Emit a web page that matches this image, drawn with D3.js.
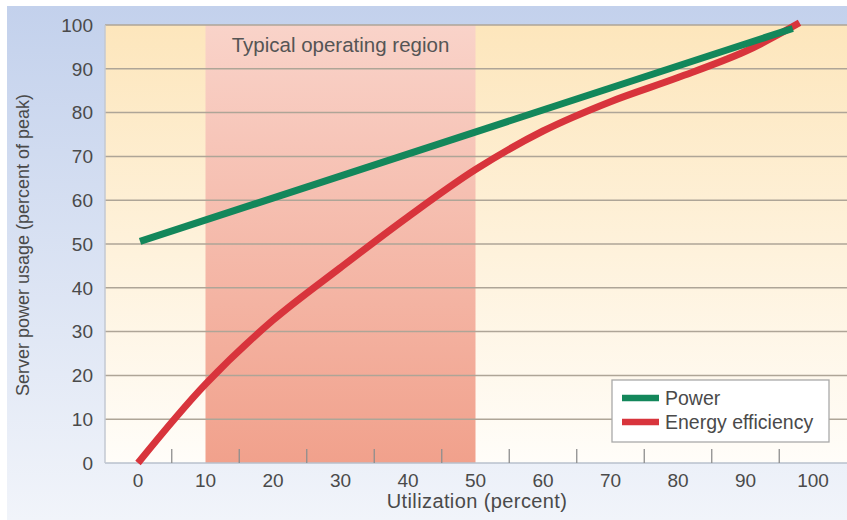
<!DOCTYPE html>
<html>
<head>
<meta charset="utf-8">
<script src="https://cdn.jsdelivr.net/npm/d3@7"></script>
<style>
  body { margin: 0; background: #fff; }
  svg text { font-family: "Liberation Sans", Arial, sans-serif; fill: #4a4a4a; }
</style>
</head>
<body>
<div id="chart"></div>
<script>
// data
var xTicks = [0, 10, 20, 30, 40, 50, 60, 70, 80, 90, 100];
var xMinorTicks = [5, 15, 25, 35, 45, 55, 65, 75, 85, 95];
var yTicks = [0, 10, 20, 30, 40, 50, 60, 70, 80, 90, 100];
var region = [10, 50];
var regionLabel = "Typical operating region";

var powerUtil = [0.3, 97];
var powerValues = [50.6, 99.2];

var effUtil = [0, 10, 20, 30, 40, 50, 60, 70, 80, 90, 98];
var effValues = [0, 18, 32.6, 44.6, 56.2, 67, 75.8, 82.5, 88, 94, 100.5];

var seriesNames = ["Power", "Energy efficiency"];
var seriesColors = ["#13875b", "#d8343c"];

var width = 847, height = 520;
var plotLeft = 105, plotRight = 847, plotTop = 25, plotBottom = 463;

var svg = d3.select("#chart").append("svg")
    .attr("width", width)
    .attr("height", height);

var defs = svg.append("defs");

function vGradient(id, top, bottom) {
    var g = defs.append("linearGradient")
        .attr("id", id)
        .attr("x1", 0).attr("y1", 0).attr("x2", 0).attr("y2", 1);
    g.append("stop").attr("offset", "0%").attr("stop-color", top);
    g.append("stop").attr("offset", "100%").attr("stop-color", bottom);
}
vGradient("panelGrad", "#c3d1ec", "#f1f4fa");
vGradient("plotGrad", "#fde6bc", "#fffdf9");
vGradient("regionGrad", "#f9d3c9", "#f1a18c");

var x = d3.scaleLinear().domain([0, 100]).range([138, 813]);
var y = d3.scaleLinear().domain([0, 100]).range([plotBottom, plotTop]);

// outer panel
svg.append("rect")
    .attr("x", 7).attr("y", 6)
    .attr("width", width - 7).attr("height", height - 6)
    .style("fill", "url(#panelGrad)");

// plot area
svg.append("rect")
    .attr("x", plotLeft).attr("y", plotTop)
    .attr("width", plotRight - plotLeft).attr("height", plotBottom - plotTop)
    .style("fill", "url(#plotGrad)");

svg.append("rect")
    .attr("x", x(region[0])).attr("y", plotTop)
    .attr("width", x(region[1]) - x(region[0])).attr("height", plotBottom - plotTop)
    .style("fill", "url(#regionGrad)");

svg.append("text")
    .attr("x", (x(region[0]) + x(region[1])) / 2)
    .attr("y", 52)
    .style("font-size", "20.5px")
    .style("text-anchor", "middle")
    .style("fill", "#555")
    .text(regionLabel);

// gridlines
svg.selectAll("line.grid")
    .data(yTicks.filter(function(d) { return d > 0; }))
    .enter()
    .append("line")
        .attr("class", "grid")
        .attr("x1", plotLeft).attr("x2", plotRight)
        .attr("y1", function(d) { return y(d); })
        .attr("y2", function(d) { return y(d); })
        .style("stroke", "#aea597")
        .style("stroke-width", 1.5);

// axis lines
svg.append("line")
    .attr("x1", plotLeft).attr("x2", plotRight)
    .attr("y1", plotBottom).attr("y2", plotBottom)
    .style("stroke", "#b9c0cc").style("stroke-width", 1.5);
svg.append("line")
    .attr("x1", plotLeft).attr("x2", plotLeft)
    .attr("y1", plotTop).attr("y2", plotBottom)
    .style("stroke", "#c3c8d2").style("stroke-width", 1.5);

svg.selectAll("line.minor")
    .data(xMinorTicks)
    .enter()
    .append("line")
        .attr("class", "minor")
        .attr("x1", function(d) { return x(d); })
        .attr("x2", function(d) { return x(d); })
        .attr("y1", plotBottom - 14).attr("y2", plotBottom)
        .style("stroke", "#8e8e8e").style("stroke-width", 1.3);

// tick labels
svg.selectAll("text.xtick")
    .data(xTicks)
    .enter()
    .append("text")
        .attr("class", "xtick")
        .attr("x", function(d) { return x(d); })
        .attr("y", 487)
        .style("font-size", "19px")
        .style("text-anchor", "middle")
        .text(function(d) { return d; });

svg.selectAll("text.ytick")
    .data(yTicks)
    .enter()
    .append("text")
        .attr("class", "ytick")
        .attr("x", 93)
        .attr("y", function(d) { return y(d); })
        .attr("dy", "0.36em")
        .style("font-size", "19px")
        .style("text-anchor", "end")
        .text(function(d) { return d; });

svg.append("text")
    .attr("x", 477).attr("y", 508)
    .style("font-size", "20px")
    .style("letter-spacing", "0.4px")
    .style("text-anchor", "middle")
    .text("Utilization (percent)");

svg.append("text")
    .attr("transform", "translate(29,245) rotate(-90)")
    .style("font-size", "18px")
    .style("text-anchor", "middle")
    .text("Server power usage (percent of peak)");

// lines: red underneath green
var line = d3.line()
    .x(function(d) { return x(d[0]); })
    .y(function(d) { return y(d[1]); })
    .curve(d3.curveCatmullRom.alpha(0.5));

svg.append("path")
    .datum(d3.zip(effUtil, effValues))
    .attr("d", line)
    .style("fill", "none")
    .style("stroke", seriesColors[1])
    .style("stroke-width", 7);

svg.append("path")
    .datum(d3.zip(powerUtil, powerValues))
    .attr("d", line)
    .style("fill", "none")
    .style("stroke", seriesColors[0])
    .style("stroke-width", 7);

// legend
var legend = svg.append("g").attr("transform", "translate(612,380)");
legend.append("rect")
    .attr("width", 217).attr("height", 62)
    .style("fill", "#fff")
    .style("stroke", "#a9a9a9")
    .style("stroke-width", 1.3);

legend.selectAll("line.key")
    .data(seriesNames)
    .enter()
    .append("line")
        .attr("class", "key")
        .attr("x1", 10).attr("x2", 47)
        .attr("y1", function(d, i) { return 18 + i * 24; })
        .attr("y2", function(d, i) { return 18 + i * 24; })
        .style("stroke", function(d, i) { return seriesColors[i]; })
        .style("stroke-width", 6.5);

legend.selectAll("text.key")
    .data(seriesNames)
    .enter()
    .append("text")
        .attr("class", "key")
        .attr("x", 53)
        .attr("y", function(d, i) { return 18 + i * 24; })
        .attr("dy", "0.36em")
        .style("font-size", "19.5px")
        .text(function(d) { return d; });
</script>
</body>
</html>
